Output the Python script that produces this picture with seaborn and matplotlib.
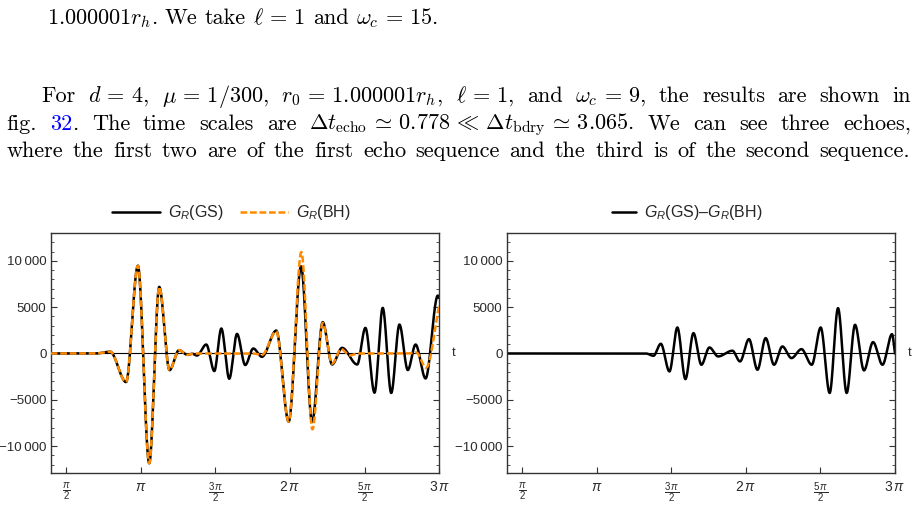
import numpy as np
import pandas as pd
import matplotlib
matplotlib.use("Agg")
import matplotlib.pyplot as plt
import matplotlib.transforms as mtransforms
import seaborn as sns
from matplotlib.lines import Line2D
from matplotlib.ticker import MultipleLocator, FixedLocator, FixedFormatter

# extrema, time in units of pi
gs_t = [0.397, 0.70, 0.795, 0.902, 0.981, 1.057, 1.124, 1.193, 1.256, 1.314, 1.345, 1.377,
        1.439, 1.493, 1.540, 1.593, 1.645, 1.700, 1.754, 1.812, 1.908, 1.991, 2.074, 2.148,
        2.219, 2.282, 2.349, 2.450, 2.505, 2.566, 2.621, 2.678, 2.733, 2.789, 2.841, 2.908,
        2.990, 3.0]
gs_v = [0, 0, 200, -3090, 9490, -11870, 7200, -1800, 360, -150, -30, -220,
        970, -1900, 2700, -2730, 2120, -1250, 540, -360, 2480, -7370, 9420, -7400,
        3390, -1190, 610, -1190, 2770, -4240, 4930, -4270, 3130, -1790, 970, -2700,
        6260, 6000]

bh_t = [0.397, 0.70, 0.795, 0.902, 0.981, 1.057, 1.124, 1.193, 1.256, 1.314, 1.36, 1.75,
        1.812, 1.908, 1.991, 2.076, 2.150, 2.219, 2.282, 2.342, 2.40, 2.46, 2.79, 2.845,
        2.912, 3.0]
bh_v = [0, 0, 200, -3090, 9490, -11870, 7200, -1800, 360, -140, 0, 0,
        -150, 2400, -7370, 10970, -8200, 3300, -1100, 480, -200, 0, 0, 120,
        -1540, 5300]

diff_t = [0.397, 1.33, 1.381, 1.430, 1.488, 1.541, 1.595, 1.649, 1.702, 1.756, 1.814, 1.910,
          1.961, 2.021, 2.078, 2.133, 2.189, 2.245, 2.306, 2.373, 2.442, 2.502, 2.562, 2.618,
          2.676, 2.732, 2.792, 2.853, 2.916, 2.980, 3.0]
diff_v = [0, 0, -250, 1050, -1940, 2810, -2770, 2200, -1220, 650, -320, 300,
          -860, 1550, -1760, 1660, -1220, 760, -500, 470, -1220, 2810, -4270, 4900,
          -4270, 3100, -1830, 1230, -1220, 2090, 0]

xtick_pos = [0.5, 1.0, 1.5, 2.0, 2.5, 3.0]
xtick_lab = [r"$\frac{\pi}{2}$", r"$\pi$", r"$\frac{3\,\pi}{2}$", r"$2\,\pi$", r"$\frac{5\,\pi}{2}$", r"$3\,\pi$"]
ytick_pos = [-10000, -5000, 0, 5000, 10000]
ytick_lab = ["\u221210\u2009000", "\u22125000", "0", "5000", "10\u2009000"]

line1 = [r"$1.000001r_h$.", "We", "take", r"$\ell\,=\,1$", "and", r"$\omega_c\,=\,15$."]
line2 = ["For", r"$d\,=\,4$,", r"$\mu\,=\,1/300$,", r"$r_0\,=\,1.000001r_h$,", r"$\ell\,=\,1$,", "and",
         r"$\omega_c\,=\,9$,", "the", "results", "are", "shown", "in"]
line3 = ["fig.", [("32", "#0000ff"), (".", "black")], "The", "time", "scales", "are",
         r"$\Delta t_\mathrm{echo}\,\simeq\,0.778\,\ll\,\Delta t_\mathrm{bdry}\,\simeq\,3.065$.",
         "We", "can", "see", "three", "echoes,"]
line4 = "where the first two are of the first echo sequence and the third is of the second sequence.".split()


def smooth(xk, yk, x):
    # monotone cubic through the read extrema (flat at peaks)
    xk = np.asarray(xk, float)
    yk = np.asarray(yk, float)
    h = np.diff(xk)
    d = np.diff(yk) / h
    m = np.zeros(len(xk))
    for k in range(1, len(xk) - 1):
        if d[k - 1] * d[k] > 0:
            w1 = 2 * h[k] + h[k - 1]
            w2 = h[k] + 2 * h[k - 1]
            m[k] = (w1 + w2) / (w1 / d[k - 1] + w2 / d[k])
    m[0] = d[0]
    m[-1] = d[-1]
    i = np.clip(np.searchsorted(xk, x) - 1, 0, len(xk) - 2)
    s = (x - xk[i]) / h[i]
    h00 = 2 * s**3 - 3 * s**2 + 1
    h10 = s**3 - 2 * s**2 + s
    h01 = -2 * s**3 + 3 * s**2
    h11 = s**3 - s**2
    return h00 * yk[i] + h10 * h[i] * m[i] + h01 * yk[i + 1] + h11 * h[i] * m[i + 1]


W, H = 919, 522
ORANGE = "#ff8a00"
TICKC = "#2b2b2b"

sns.set_style("ticks")
plt.rcParams["font.family"] = ["Liberation Sans", "DejaVu Sans"]
plt.rcParams["mathtext.fontset"] = "custom"
plt.rcParams["mathtext.rm"] = "Liberation Sans"
plt.rcParams["mathtext.it"] = "Liberation Sans:italic"
plt.rcParams["mathtext.bf"] = "Liberation Sans:bold"

fig = plt.figure(figsize=(W / 100, H / 100), dpi=100)
renderer = fig.canvas.get_renderer()

tt = np.linspace(gs_t[0], 3.0, 3000)
curves = {
    "gs": pd.DataFrame({"t": tt * np.pi, "v": smooth(gs_t, gs_v, tt)}),
    "bh": pd.DataFrame({"t": tt * np.pi, "v": smooth(bh_t, bh_v, tt)}),
    "diff": pd.DataFrame({"t": tt * np.pi, "v": smooth(diff_t, diff_v, tt)}),
}


def style_axes(ax):
    ax.set_xlim(gs_t[0] * np.pi, 3.0 * np.pi)
    ax.set_ylim(-12950, 12990)
    ax.axhline(0, color="black", lw=0.8, zorder=1)
    for sp in ax.spines.values():
        sp.set_visible(True)
        sp.set_color("#333333")
        sp.set_linewidth(1.0)
    ax.xaxis.set_major_locator(FixedLocator([p * np.pi for p in xtick_pos]))
    ax.xaxis.set_major_formatter(FixedFormatter(xtick_lab))
    ax.yaxis.set_major_locator(FixedLocator(ytick_pos))
    ax.yaxis.set_major_formatter(FixedFormatter(ytick_lab))
    ax.yaxis.set_minor_locator(MultipleLocator(1000))
    ax.tick_params(axis="x", which="major", direction="in", length=4, width=0.8,
                   bottom=True, top=False, labelsize=10, labelcolor=TICKC, pad=5, color="#333333")
    ax.tick_params(axis="x", which="minor", bottom=False, top=False)
    ax.tick_params(axis="y", which="major", direction="in", length=4, width=0.8,
                   left=True, right=True, labelsize=9.6, labelcolor=TICKC, pad=3, color="#333333")
    ax.tick_params(axis="y", which="minor", direction="in", length=2, width=0.6,
                   left=True, right=True, color="#333333")
    ax.set_xlabel("")
    ax.set_ylabel("")
    trans = mtransforms.blended_transform_factory(ax.transAxes, ax.transData)
    ax.text(1.038, 0, "t", transform=trans, ha="center", va="center", fontsize=9.5, color=TICKC)


ax1 = fig.add_axes([50.7 / W, 1 - 473.3 / H, 388.6 / W, 240 / H])
ax2 = fig.add_axes([506.7 / W, 1 - 473.3 / H, 388.3 / W, 240 / H])

sns.lineplot(data=curves["gs"], x="t", y="v", ax=ax1, color="black", lw=1.8, estimator=None, zorder=2)
sns.lineplot(data=curves["bh"], x="t", y="v", ax=ax1, color=ORANGE, lw=1.8, estimator=None, zorder=3)
ax1.lines[-1].set_dashes([2.7, 1.1])
sns.lineplot(data=curves["diff"], x="t", y="v", ax=ax2, color="black", lw=1.8, estimator=None, zorder=2)

style_axes(ax1)
style_axes(ax2)

h_gs = Line2D([], [], color="black", lw=1.8)
h_bh = Line2D([], [], color=ORANGE, lw=1.8, dashes=[2.7, 1.1])
leg_kw = dict(loc="center", frameon=False, fontsize=11.5,
              handletextpad=0.5, columnspacing=1.0, borderaxespad=0, borderpad=0)
ax1.legend([h_gs, h_bh], [r"$G_R$(GS)", r"$G_R$(BH)"], ncol=2, handlelength=3.0,
           bbox_to_anchor=(0.465, 1.085), **leg_kw)
ax2.legend([h_gs], [r"$G_R$(GS)" + "\u2013" + r"$G_R$(BH)"], ncol=1, handlelength=1.45,
           bbox_to_anchor=(0.465, 1.085), **leg_kw)


# body text of the page, justified word by word
def make_words(words, fs):
    placed = []
    for w in words:
        pieces = w if isinstance(w, list) else [(w, "black")]
        objs = []
        for s, c in pieces:
            t = fig.text(0, 0, s, color=c, fontsize=fs, family="cmr10",
                         math_fontfamily="cm", ha="left", va="baseline")
            objs.append((t, t.get_window_extent(renderer).width))
        placed.append(objs)
    return placed


def space_px(fs):
    return fs * 100 / 72 * 0.333


# font size from the natural width of the last (full) line
probe = make_words(line4, 10)
probe_w = sum(wd for objs in probe for _, wd in objs)
for objs in probe:
    for t, _ in objs:
        t.remove()
FS = 0.96 * 903 / (probe_w / 10 + (len(line4) - 1) * space_px(1))


def put_line(words, x0, x1, y, justify=True):
    placed = make_words(words, FS)
    total = sum(wd for objs in placed for _, wd in objs)
    gap = (x1 - x0 - total) / (len(words) - 1) if justify else space_px(FS)
    x = x0
    for objs in placed:
        for t, wd in objs:
            t.set_position((x / W, 1 - y / H))
            x += wd
        x += gap


put_line(line1, 46.7, None, 24.0, justify=False)
put_line(line2, 41.7, 911, 101.8)
put_line(line3, 6.7, 911, 129.6)
put_line(line4, 6.7, 910, 157.4)

fig.savefig("out.png", dpi=100)
